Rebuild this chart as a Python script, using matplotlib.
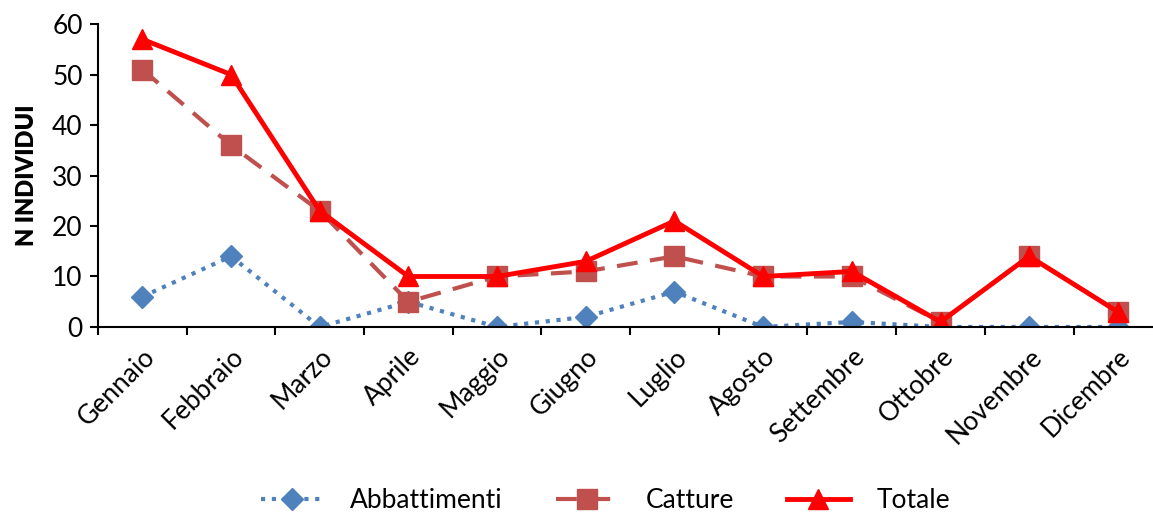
import numpy as np
import matplotlib.pyplot as plt

plt.rcParams['font.family'] = ['Lato', 'DejaVu Sans']

mesi = ["Gennaio", "Febbraio", "Marzo", "Aprile", "Maggio", "Giugno",
        "Luglio", "Agosto", "Settembre", "Ottobre", "Novembre", "Dicembre"]
abbattimenti = [6, 14, 0, 5, 0, 2, 7, 0, 1, 0, 0, 0]
catture = [51, 36, 23, 5, 10, 11, 14, 10, 10, 1, 14, 3]
totale = [57, 50, 23, 10, 10, 13, 21, 10, 11, 1, 14, 3]

x = np.arange(len(mesi))

fig = plt.figure(figsize=(11.53, 5.24), dpi=100)
ax = fig.add_axes([0.085, 0.376, 0.923, 0.578])

ax.plot(x, abbattimenti, color="#4F81BD", linestyle=(0, (1, 1.6)), linewidth=3,
        marker="D", markersize=11, label="Abbattimenti")
ax.plot(x, catture, color="#C0504D", linestyle=(0, (5, 3)), linewidth=3,
        marker="s", markersize=14, label="Catture")
ax.plot(x, totale, color="#FF0000", linestyle="-", linewidth=3.5,
        marker="^", markersize=14, label="Totale")

ax.set_xlim(-0.5, len(mesi) - 0.5)
ax.set_ylim(0, 60)
ax.set_yticks(range(0, 61, 10))
ax.tick_params(axis="y", labelsize=19, length=6, width=1.5, direction="out", pad=5)
ax.set_xticks(x)
ax.set_xticklabels(mesi, rotation=45, ha="right", rotation_mode="anchor", fontsize=19)
ax.tick_params(axis="x", which="major", length=0, pad=12)
ax.set_xticks(np.arange(-0.5, len(mesi), 1), minor=True)
ax.tick_params(axis="x", which="minor", length=6, width=1.5, direction="out")

for s in ["top", "right"]:
    ax.spines[s].set_visible(False)
ax.spines["left"].set_linewidth(1.5)
ax.spines["bottom"].set_linewidth(1.5)

ax.set_ylabel("N INDIVIDUI", fontsize=17, fontweight="heavy", labelpad=10)

fig.legend(loc="lower center", bbox_to_anchor=(0.525, -0.025), ncol=3, frameon=False,
           fontsize=19, handlelength=2.4, handletextpad=1.0, columnspacing=2.0)

fig.savefig("out.png", dpi=100)
